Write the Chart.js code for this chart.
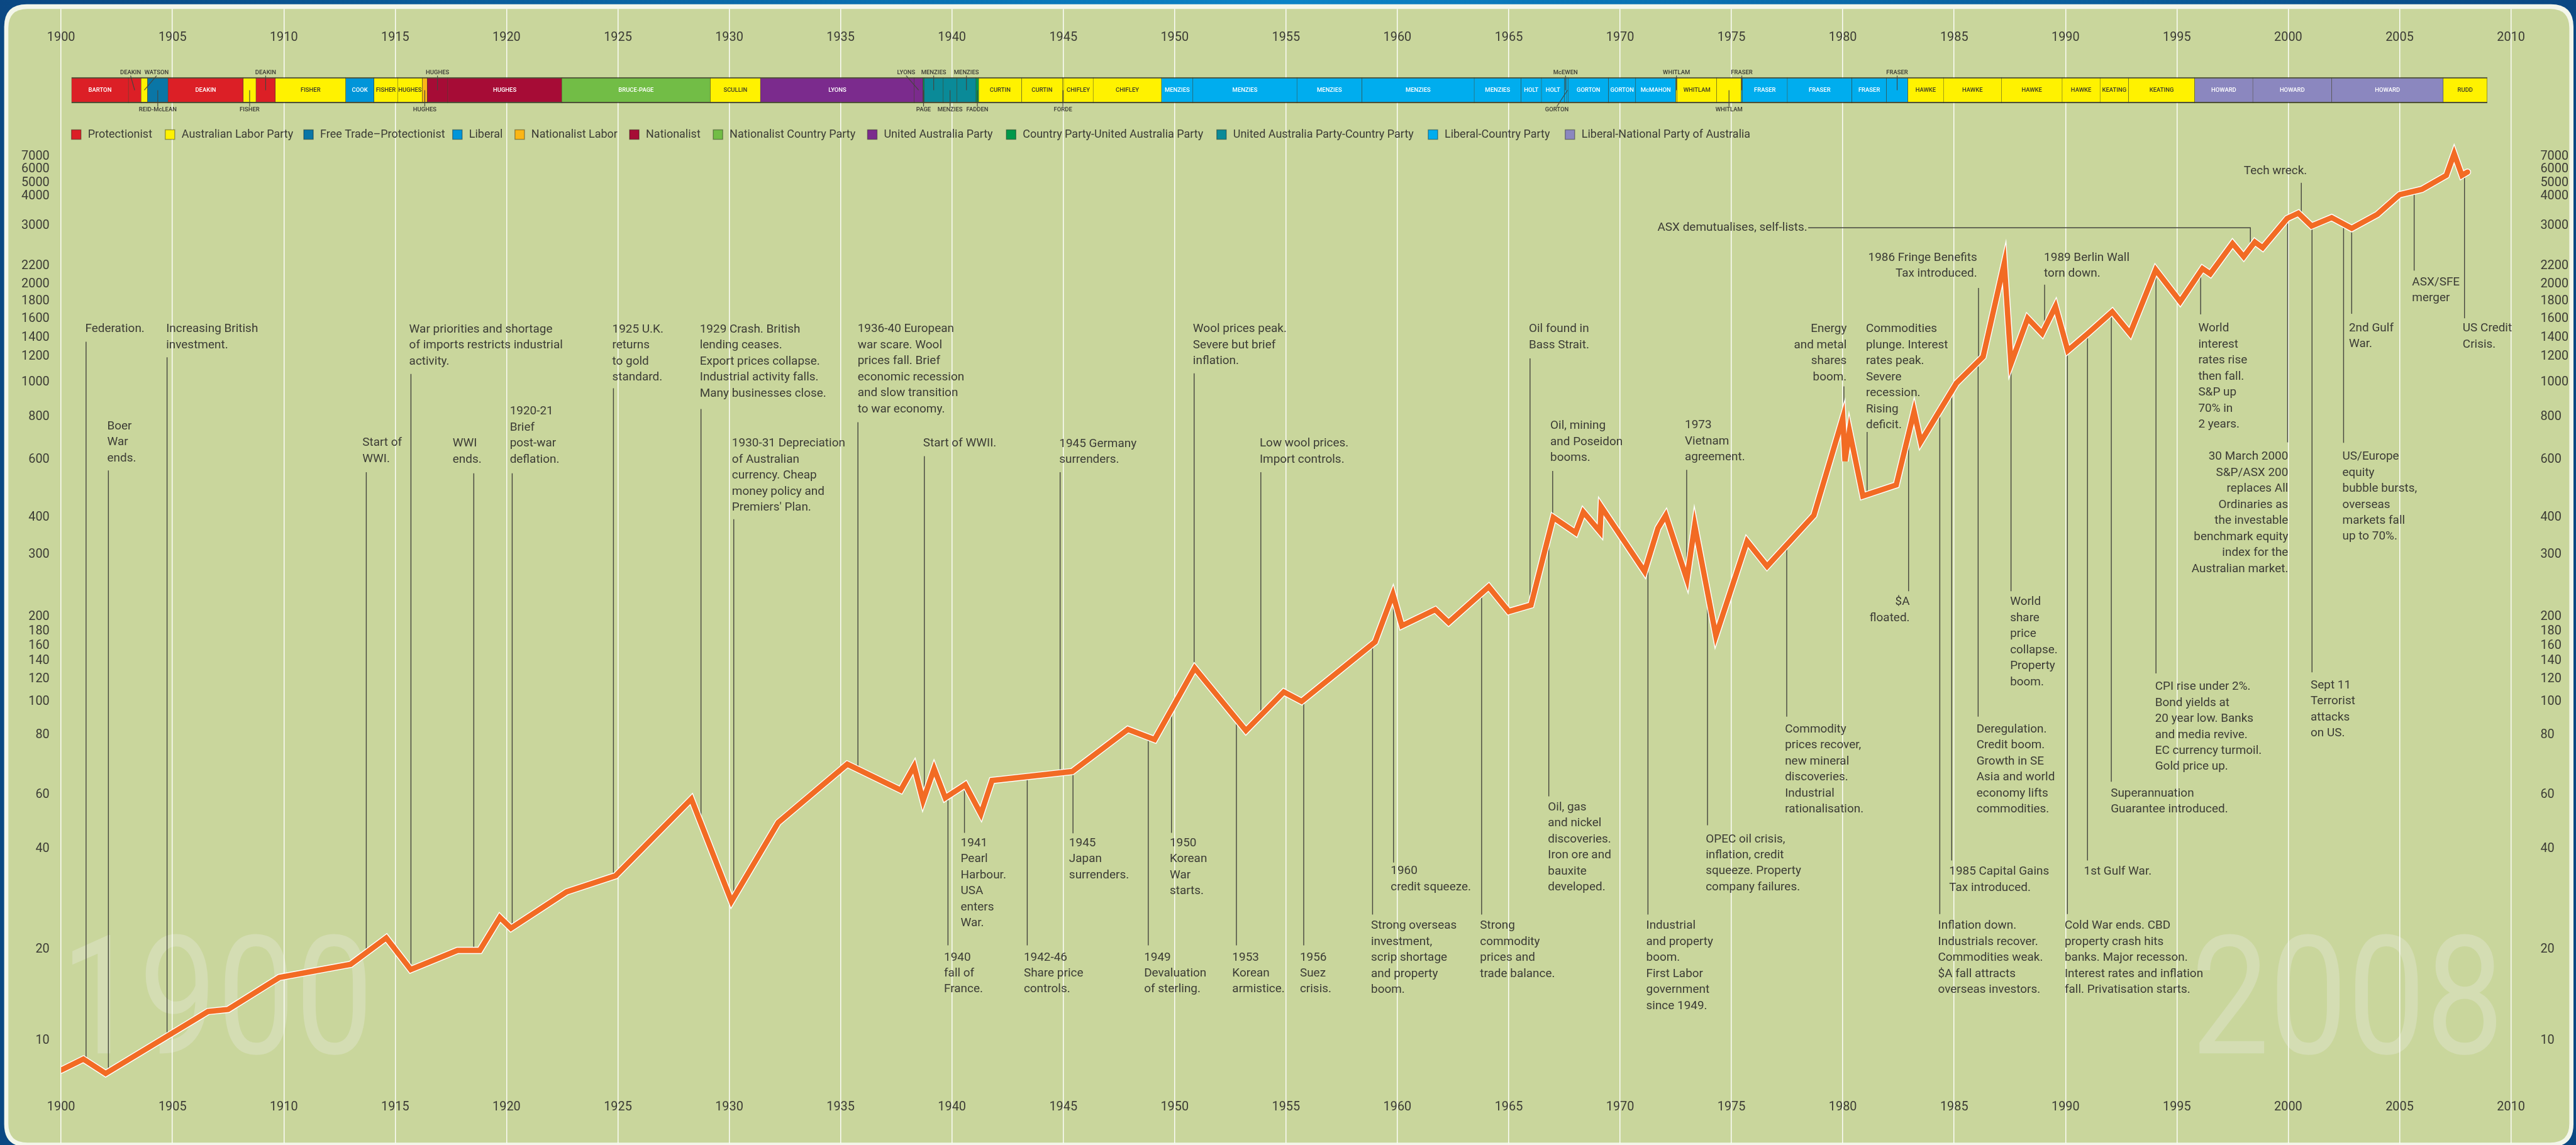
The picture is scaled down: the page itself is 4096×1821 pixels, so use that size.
<!DOCTYPE html>
<html>
<head>
<meta charset="utf-8">
<title>All Ordinaries 1900-2008</title>
<script src="https://cdn.jsdelivr.net/npm/chart.js@4.4.1/dist/chart.umd.min.js"></script>
<style>
  html, body { margin: 0; padding: 0; background: #0b5b9c; overflow: hidden; }
  canvas { display: block; }
</style>
</head>
<body>
<canvas id="chart" width="4096" height="1821"></canvas>
<script>
// ---------- data ----------
const years = [1900.0,1901.0,1902.0,1906.6,1907.5,1909.8,1913.0,1914.6,1915.7,1917.8,
  1918.8,1919.7,1920.2,1922.7,1924.9,1928.3,1930.1,1932.2,1935.3,1937.7,
  1938.3,1938.7,1939.2,1939.7,1940.6,1941.3,1941.8,1945.4,1947.9,1949.1,
  1950.9,1953.2,1954.9,1955.7,1959.0,1959.8,1960.2,1961.7,1962.3,1964.1,
  1965.0,1966.0,1967.0,1968.0,1968.35,1969.1,1969.15,1971.1,1971.7,1972.05,
  1973.0,1973.35,1974.3,1975.7,1976.6,1978.7,1980.0,1980.1,1980.3,1980.9,
  1982.4,1983.2,1983.5,1985.1,1986.3,1987.25,1987.55,1988.3,1988.95,1989.55,
  1990.1,1991.0,1992.1,1992.9,1994.05,1995.15,1996.15,1996.5,1997.5,1998.0,
  1998.5,1998.85,1999.95,2000.45,2001.05,2001.95,2002.85,2004.0,2005.0,2006.0,
  2007.1,2007.45,2007.8,2008.05];
const allOrds = [8.0,8.7,7.8,12.5,12.7,16.2,17.9,21.7,17.2,19.9,
  19.9,25.0,23.2,29.8,33.3,58.2,27.9,48.8,69.5,61.4,
  68.8,57.4,68.0,58.7,63.0,52.0,64.3,67.1,83.0,78.2,
  131.9,82.3,108.5,100.5,165.4,231.6,187.3,209.5,191.9,243.1,
  207.1,216.0,400,355.3,415.5,357.8,431.3,268.3,368.0,405.9,
  255.1,376.6,173.4,332.3,277.7,405.9,793.7,593.7,728.0,465.0,
  502.5,828.3,676.6,993.9,1200,2251,1140,1603,1441,1739,
  1260,1441,1676,1441,2158,1796,2172,2111,2617,2366,
  2647,2534,3215,3385,2993,3243,2938,3346,4082,4472,
  5521,7228,5521,5768];

const yTicks = [7000,6000,5000,4000,3000,2200,2000,1800,1600,1400,1200,1000,800,600,
  400,300,200,180,160,140,120,100,80,60,40,20,10];
const xTicks = [1900,1905,1910,1915,1920,1925,1930,1935,1940,1945,1950,1955,
  1960,1965,1970,1975,1980,1985,1990,1995,2000,2005,2010];

const parties = ['Protectionist','Australian Labor Party','Free Trade\u2013Protectionist','Liberal',
  'Nationalist Labor','Nationalist','Nationalist Country Party','United Australia Party',
  'Country Party-United Australia Party','United Australia Party-Country Party',
  'Liberal-Country Party','Liberal-National Party of Australia'];

const govPM = ['BARTON','DEAKIN','WATSON','REID-McLEAN','DEAKIN','FISHER','DEAKIN','FISHER','COOK','FISHER',
  'HUGHES','HUGHES','HUGHES','HUGHES','BRUCE-PAGE','SCULLIN','LYONS','LYONS','PAGE','MENZIES',
  'MENZIES','MENZIES','FADDEN','CURTIN','CURTIN','FORDE','CHIFLEY','CHIFLEY','MENZIES','MENZIES',
  'MENZIES','MENZIES','MENZIES','HOLT','HOLT','McEWEN','GORTON','GORTON','GORTON','McMAHON',
  'WHITLAM','WHITLAM','WHITLAM','FRASER','FRASER','FRASER','FRASER','FRASER','HAWKE','HAWKE',
  'HAWKE','HAWKE','KEATING','KEATING','HOWARD','HOWARD','HOWARD','RUDD'];
const govStart = [1900.47,1903.02,1903.59,1903.88,1904.80,1908.18,1908.75,1909.62,1912.78,1914.05,
  1915.11,1916.22,1916.44,1917.36,1922.48,1929.15,1931.40,1938.31,1938.70,1938.75,
  1939.61,1940.22,1941.08,1941.20,1943.13,1944.96,1945.01,1946.34,1949.41,1950.82,
  1955.49,1958.41,1963.45,1965.55,1966.47,1967.50,1967.60,1967.68,1969.48,1970.70,
  1972.50,1972.56,1974.34,1975.44,1975.49,1977.51,1980.41,1981.96,1982.92,1984.52,
  1987.12,1989.85,1991.55,1992.83,1995.80,1998.41,2001.95,2006.96];
const govEnd = [1903.02,1903.59,1903.88,1904.80,1908.18,1908.75,1909.62,1912.78,1914.05,1915.11,
  1916.22,1916.44,1917.36,1922.48,1929.15,1931.40,1938.31,1938.70,1938.75,1939.61,
  1940.22,1941.08,1941.20,1943.13,1944.96,1945.01,1946.34,1949.41,1950.82,1955.49,
  1958.41,1963.45,1965.55,1966.47,1967.50,1967.60,1967.68,1969.48,1970.70,1972.50,
  1972.56,1974.34,1975.44,1975.49,1977.51,1980.41,1981.96,1982.92,1984.52,1987.12,
  1989.85,1991.55,1992.83,1995.80,1998.41,2001.95,2006.96,2008.93];
const govParty = [0,0,1,2,0,1,0,1,3,1, 1,4,5,5,6,1,7,7,8,9, 9,9,8,1,1,1,1,1,10,10,
  10,10,10,10,10,10,10,10,10,10, 1,1,1,10,10,10,10,10,1,1, 1,1,1,1,11,11,11,1];

// ---------- layout and style (reference pixels, drawn at S) ----------
const S = 0.947;
const px = v => v * S;
const AREA_TOP = 15, AREA_BOTTOM = 1920;
const yTickPosRef = [262.5,284,307,329,379,447,477,506,535,567,599,642,700,772,
  869,931,1036,1060,1085,1110,1141,1179,1234,1335,1426,1595,1748];
const partyColor = ['#dc1f26','#fff200','#0a76a6','#0095d9','#fbb616','#a60c36',
  '#72bd46','#7b2b8d','#00984a','#0a8a98','#00adee','#8b87bf'];
const govLabelAt = ['in','up','up','down','in','down','up','in','in','in',
  'in','down','up','in','in','in','in','up','down','up',
  'down','up','down','in','in','down','in','in','in','in',
  'in','in','in','in','in','up','down','in','in','in',
  'up','in','down','up','in','in','in','up','in','in',
  'in','in','in','in','in','in','in','in'];
const govLabelShift = {1: -7, 2: 20.6, 17: -21, 36: -18};
const legendX = [120,277.4,510,760,864.6,1057,1197.5,1456.6,1689.7,2043,2398,2628];
const PANEL = '#c9d69c', WATERMARK = '#d4ddb3', INK = '#3b3b35', LEADER = '#45453e';
const ORANGE = '#f26b24';

const notes = [
  {t:['Federation.'], x:143, y:553, lx:144.5, ly:574},
  {t:['Boer','War','ends.'], x:180, y:716, lx:182, ly:790},
  {t:['Increasing British','investment.'], x:279, y:553, lx:280.5, ly:600},
  {t:['Start of','WWI.'], x:608.5, y:744, lx:615, ly:793},
  {t:['War priorities and shortage','of imports restricts industrial','activity.'], x:687, y:553.5, lx:690, ly:628},
  {t:['WWI','ends.'], x:760, y:745, lx:795.5, ly:795},
  {t:['1920-21','Brief','post-war','deflation.'], x:856, y:691, lx:860, ly:795},
  {t:['1925 U.K.','returns','to gold','standard.'], x:1028, y:553.5, lx:1030, ly:652},
  {t:['1929 Crash. British','lending ceases.','Export prices collapse.','Industrial activity falls.','Many businesses close.'], x:1175, y:553.5, lx:1177, ly:687},
  {t:['1930-31 Depreciation','of Australian','currency. Cheap','money policy and',"Premiers' Plan."], x:1229, y:745, lx:1232, ly:872},
  {t:['1936-40 European','war scare. Wool','prices fall. Brief','economic recession','and slow transition','to war economy.'], x:1440, y:553, lx:1440.5, ly:709},
  {t:['Start of WWII.'], x:1550, y:745, lx:1552, ly:766},
  {t:['1945 Germany','surrenders.'], x:1778.5, y:745.5, lx:1780, ly:793},
  {t:['Wool prices peak.','Severe but brief','inflation.'], x:2003, y:553, lx:2005, ly:627},
  {t:['Low wool prices.','Import controls.'], x:2115, y:745, lx:2117, ly:793},
  {t:['Oil found in','Bass Strait.'], x:2567, y:553, lx:2569, ly:602},
  {t:['Oil, mining','and Poseidon','booms.'], x:2603, y:715.6, lx:2607, ly:791},
  {t:['1973','Vietnam','agreement.'], x:2829, y:714.5, lx:2832, ly:789},
  {t:['ASX demutualises, self-lists.'], x:2783, y:382.5, lx:3778.5, ly:382.5, hx:3036},
  {t:['Energy','and metal','shares','boom.'], x:3100.7, y:553, r:1, lx:3096, ly:649},
  {t:['Commodities','plunge. Interest','rates peak.','Severe','recession.','Rising','deficit.'], x:3133, y:553, lx:3135, ly:725.5},
  {t:['1986 Fringe Benefits','Tax introduced.'], x:3319.6, y:432.7, r:1, lx:3322, ly:483.6},
  {t:['1989 Berlin Wall','torn down.'], x:3432, y:432.7, lx:3433, ly:478},
  {t:['World','interest','rates rise','then fall.','S&P up','70% in','2 years.'], x:3691, y:552, lx:3695, ly:528},
  {t:['Tech wreck.'], x:3767.5, y:287, lx:3864, ly:307},
  {t:['30 March 2000','S&P/ASX 200','replaces All','Ordinaries as','the investable','benchmark equity','index for the','Australian market.'], x:3842, y:767.3, r:1, lx:3841, ly:743},
  {t:['2nd Gulf','War.'], x:3944, y:551, lx:3948.6, ly:527},
  {t:['US/Europe','equity','bubble bursts,','overseas','markets fall','up to 70%.'], x:3933, y:767, lx:3935, ly:743.6},
  {t:['ASX/SFE','merger'], x:4050, y:474, lx:4053.5, ly:454.5},
  {t:['US Credit','Crisis.'], x:4135, y:551.6, lx:4138, ly:534.5},
  {t:['$A','floated.'], x:3206.5, y:1011, r:1, lx:3204.6, ly:993},
  {t:['World','share','price','collapse.','Property','boom.'], x:3375, y:1011, lx:3376.6, ly:993},
  {t:['Commodity','prices recover,','new mineral','discoveries.','Industrial','rationalisation.'], x:2997, y:1225, lx:3000, ly:1203.6},
  {t:['Deregulation.','Credit boom.','Growth in SE','Asia and world','economy lifts','commodities.'], x:3318.6, y:1225, lx:3321.4, ly:1203.6},
  {t:['CPI rise under 2%.','Bond yields at','20 year low. Banks','and media revive.','EC currency turmoil.','Gold price up.'], x:3618.5, y:1153.5, lx:3620, ly:1131},
  {t:['Sept 11','Terrorist','attacks','on US.'], x:3879.6, y:1151, lx:3882, ly:1129},
  {t:['Superannuation','Guarantee introduced.'], x:3544, y:1332.7, lx:3545, ly:1312.7},
  {t:['1985 Capital Gains','Tax introduced.'], x:3272.7, y:1464, lx:3277, ly:1445},
  {t:['1st Gulf War.'], x:3499, y:1464, lx:3505, ly:1445},
  {t:['Inflation down.','Industrials recover.','Commodities weak.','$A fall attracts','overseas investors.'], x:3254, y:1555, lx:3257, ly:1535},
  {t:['Cold War ends. CBD','property crash hits','banks. Major recesson.','Interest rates and inflation','fall. Privatisation starts.'], x:3466.7, y:1555, lx:3471.3, ly:1535},
  {t:['1940','fall of','France.'], x:1585, y:1608, lx:1591.7, ly:1587.6},
  {t:['1941','Pearl','Harbour.','USA','enters','War.'], x:1613, y:1416, lx:1619.4, ly:1398.7},
  {t:['1942-46','Share price','controls.'], x:1719, y:1608, lx:1724.8, ly:1587.6},
  {t:['1945','Japan','surrenders.'], x:1795, y:1416, lx:1801.6, ly:1399.4},
  {t:['1949','Devaluation','of sterling.'], x:1921, y:1608, lx:1928, ly:1587.6},
  {t:['1950','Korean','War','starts.'], x:1964, y:1416, lx:1967, ly:1398.7},
  {t:['1953','Korean','armistice.'], x:2069, y:1608, lx:2076, ly:1587.6},
  {t:['1956','Suez','crisis.'], x:2182.6, y:1608, lx:2189, ly:1587.6},
  {t:['1960','credit squeeze.'], x:2335, y:1463, lx:2339.8, ly:1448.5},
  {t:['Strong overseas','investment,','scrip shortage','and property','boom.'], x:2302, y:1555, lx:2304.6, ly:1536},
  {t:['Strong','commodity','prices and','trade balance.'], x:2485, y:1555, lx:2487.7, ly:1536},
  {t:['Oil, gas','and nickel','discoveries.','Iron ore and','bauxite','developed.'], x:2599, y:1356, lx:2600.5, ly:1337.5},
  {t:['Industrial','and property','boom.','First Labor','government','since 1949.'], x:2764, y:1555, lx:2767, ly:1536},
  {t:['OPEC oil crisis,','inflation, credit','squeeze. Property','company failures.'], x:2864, y:1409.5, lx:2867, ly:1386}
];

// ---------- hand-drawn log axis: ticks sit where the original put them ----------
const yAnchors = yTicks.map((v, i) => ({
  lv: Math.log10(v),
  f: (AREA_BOTTOM - yTickPosRef[i]) / (AREA_BOTTOM - AREA_TOP)
})).sort((a, b) => a.lv - b.lv);

class WarpedLogScale extends Chart.LinearScale {
  buildTicks() { return yTicks.map(v => ({ value: v })); }
  decimalFor(v) {
    const lv = Math.log10(v), a = yAnchors;
    let i = 0;
    while (i < a.length - 2 && lv > a[i + 1].lv) i++;
    const p = a[i], q = a[i + 1];
    return p.f + (lv - p.lv) * (q.f - p.f) / (q.lv - p.lv);
  }
  getPixelForValue(v) {
    return (v == null || !(v > 0)) ? NaN : this.getPixelForDecimal(this.decimalFor(v));
  }
  getValueForPixel(p) {
    const d = this.getDecimalForPixel(p), a = yAnchors;
    let i = 0;
    while (i < a.length - 2 && d > a[i + 1].f) i++;
    const u = a[i], w = a[i + 1];
    return Math.pow(10, u.lv + (d - u.f) * (w.lv - u.lv) / (w.f - u.f));
  }
}
WarpedLogScale.id = 'warpedLog';
WarpedLogScale.defaults = {};
Chart.register(WarpedLogScale);

// ---------- helpers ----------
function roundRect(c, x, y, w, h, r) {
  c.beginPath();
  c.moveTo(x + r, y);
  c.lineTo(x + w - r, y); c.quadraticCurveTo(x + w, y, x + w, y + r);
  c.lineTo(x + w, y + h - r); c.quadraticCurveTo(x + w, y + h, x + w - r, y + h);
  c.lineTo(x + r, y + h); c.quadraticCurveTo(x, y + h, x, y + h - r);
  c.lineTo(x, y + r); c.quadraticCurveTo(x, y, x + r, y);
  c.closePath();
}
function squashText(c, t, x, y, sx, align) {
  c.save(); c.translate(x, y); c.scale(sx, 1); c.textAlign = align; c.fillText(t, 0, 0); c.restore();
}
// y pixel of the index line at a given x pixel
function lineYAt(chart, X) {
  const pts = chart.getDatasetMeta(2).data;
  for (let i = 0; i < pts.length - 1; i++) {
    const a = pts[i], b = pts[i + 1];
    if (X >= a.x && X <= b.x) return b.x === a.x ? a.y : a.y + (b.y - a.y) * (X - a.x) / (b.x - a.x);
  }
  return null;
}

const backdrop = {
  id: 'backdrop',
  beforeDraw(chart) {
    const c = chart.ctx, W = chart.width, H = chart.height;
    c.save();
    const g = c.createLinearGradient(0, 0, W, 0);
    g.addColorStop(0, '#0b4883'); g.addColorStop(0.5, '#0a83c6'); g.addColorStop(1, '#0b4883');
    c.fillStyle = g; c.fillRect(0, 0, W, H);
    roundRect(c, px(7), px(7), px(4314), px(1919), px(38));
    c.fillStyle = '#f3f6ea'; c.fill();
    roundRect(c, px(14), px(15), px(4300), px(1904), px(32));
    c.fillStyle = PANEL; c.fill();
    c.fillStyle = WATERMARK;
    c.font = `400 ${px(278)}px Roboto`;
    c.textBaseline = 'alphabetic';
    squashText(c, '1900', px(102), px(1769), 0.84, 'left');
    squashText(c, '2008', px(4204), px(1769), 0.84, 'right');
    c.restore();
  }
};

const notesPlugin = {
  id: 'notes',
  beforeDatasetsDraw(chart) {
    const c = chart.ctx;
    c.save();
    c.strokeStyle = LEADER; c.lineWidth = px(1.5);
    notes.forEach(n => {
      const X = px(n.lx);
      const yl = lineYAt(chart, X);
      c.beginPath();
      if (n.hx) { c.moveTo(px(n.hx), px(n.ly)); c.lineTo(X, px(n.ly)); }
      else c.moveTo(X, px(n.ly));
      if (yl != null) c.lineTo(X, yl);
      c.stroke();
    });
    c.fillStyle = INK;
    c.font = `${px(20)}px Roboto`;
    c.textBaseline = 'middle';
    notes.forEach(n => {
      c.textAlign = n.r ? 'right' : 'left';
      n.t.forEach((line, k) => c.fillText(line, px(n.x), px(n.y + k * 26.9)));
    });
    c.restore();
  }
};

const overlay = {
  id: 'overlay',
  afterDatasetsDraw(chart) {
    const c = chart.ctx;
    const meta = chart.getDatasetMeta(0);
    c.save();
    c.textBaseline = 'middle'; c.textAlign = 'center';
    meta.data.forEach((el, i) => {
      const {x, base, y} = el.getProps(['x', 'base', 'y'], true);
      const cx = (x + base) / 2;
      const where = govLabelAt[i];
      if (where === 'in') {
        const light = govParty[i] === 1 || govParty[i] === 4;
        c.fillStyle = light ? '#3a3a2c' : '#ffffff';
        c.font = `500 ${px(10)}px Roboto`;
        c.fillText(govPM[i], cx, y);
      } else {
        const lx = cx + px(govLabelShift[i] || 0);
        const ty = where === 'up' ? px(121.7) : px(184.3);
        c.fillStyle = INK;
        c.font = `500 ${px(10)}px Roboto`;
        c.fillText(govPM[i], lx, ty);
        c.strokeStyle = LEADER; c.lineWidth = px(1.2);
        c.beginPath();
        if (where === 'up') { c.moveTo(lx, px(127)); c.lineTo(cx, y); }
        else { c.moveTo(cx, y); c.lineTo(lx, px(179)); }
        c.stroke();
      }
    });
    c.restore();
  },
  afterDraw(chart) {
    const c = chart.ctx, xs = chart.scales.x;
    c.save();
    c.fillStyle = INK; c.textAlign = 'center'; c.textBaseline = 'middle';
    c.font = `${px(21)}px Roboto`;
    xTicks.forEach(yr => {
      const X = xs.getPixelForValue(yr);
      c.fillText(String(yr), X, px(63));
      c.fillText(String(yr), X, px(1860));
    });
    // party legend
    c.font = `${px(19)}px Roboto`;
    c.textAlign = 'left';
    parties.forEach((name, i) => {
      const sx = px(legendX[i]), sy = px(226 - 8), s = px(16);
      c.fillStyle = partyColor[i];
      c.fillRect(sx, sy, s, s);
      c.strokeStyle = 'rgba(0,0,0,0.35)'; c.lineWidth = px(1.5);
      c.strokeRect(sx, sy, s, s);
      c.fillStyle = INK;
      c.fillText(name, sx + px(27.5), px(226));
    });
    c.restore();
  }
};

// ---------- chart ----------
const BAR_MID = 151.5;
const barFrac = (AREA_BOTTOM - BAR_MID) / (AREA_BOTTOM - AREA_TOP);
const points = years.map((yr, i) => ({ x: yr, y: allOrds[i] }));
const tickFont = { family: 'Roboto', size: px(21) };

new Chart(document.getElementById('chart'), {
  type: 'line',
  data: {
    datasets: [
      {
        type: 'bar', indexAxis: 'y', xAxisID: 'x', yAxisID: 'yb', order: 3,
        data: govStart.map((s, i) => ({ x: [s, govEnd[i]], y: 0 })),
        backgroundColor: govParty.map(p => partyColor[p]),
        borderColor: 'rgba(35,35,20,0.75)',
        borderWidth: { top: px(2.2), bottom: px(2.2), left: px(0.6), right: px(0.6) },
        borderSkipped: false, barThickness: px(43)
      },
      {
        label: 'casing', data: points, xAxisID: 'x', yAxisID: 'y', order: 2,
        borderColor: '#ffffff', borderWidth: px(12), tension: 0, pointRadius: 0,
        borderJoinStyle: 'miter', borderCapStyle: 'round'
      },
      {
        label: 'All Ordinaries', data: points, xAxisID: 'x', yAxisID: 'y', order: 1,
        borderColor: ORANGE, borderWidth: px(9), tension: 0, pointRadius: 0,
        borderJoinStyle: 'miter', borderCapStyle: 'round'
      }
    ]
  },
  options: {
    responsive: false,
    devicePixelRatio: 1,
    animation: false,
    events: [],
    layout: { autoPadding: false, padding: { top: px(AREA_TOP), bottom: 1821 - px(AREA_BOTTOM), left: 0, right: 0 } },
    plugins: { legend: { display: false }, tooltip: { enabled: false } },
    scales: {
      x: {
        type: 'linear', position: 'bottom', min: 1900, max: 2010, offset: false,
        ticks: { display: false, stepSize: 5 },
        grid: { color: 'rgba(255,255,255,0.92)', lineWidth: px(1.6), drawTicks: false, offset: false },
        border: { display: false },
        afterFit: s => { s.height = 0; s.paddingLeft = 0; s.paddingRight = 0; }
      },
      y: {
        type: 'warpedLog', position: 'left', min: 5, max: 9000,
        ticks: { autoSkip: false, padding: px(11), font: tickFont, color: INK, callback: v => String(v) },
        grid: { display: false }, border: { display: false },
        afterFit: s => { s.width = px(102.6); s.paddingTop = 0; s.paddingBottom = 0; }
      },
      y2: {
        type: 'warpedLog', position: 'right', min: 5, max: 9000,
        ticks: { autoSkip: false, padding: px(41), font: tickFont, color: INK, callback: v => String(v) },
        grid: { display: false }, border: { display: false },
        afterFit: s => { s.width = 4096 - px(4216); s.paddingTop = 0; s.paddingBottom = 0; }
      },
      yb: {
        type: 'linear', axis: 'y', position: 'left', display: false, offset: false,
        grid: { offset: false },
        min: -barFrac / (1 - barFrac), max: 1
      }
    }
  },
  plugins: [backdrop, notesPlugin, overlay]
});
</script>
</body>
</html>
